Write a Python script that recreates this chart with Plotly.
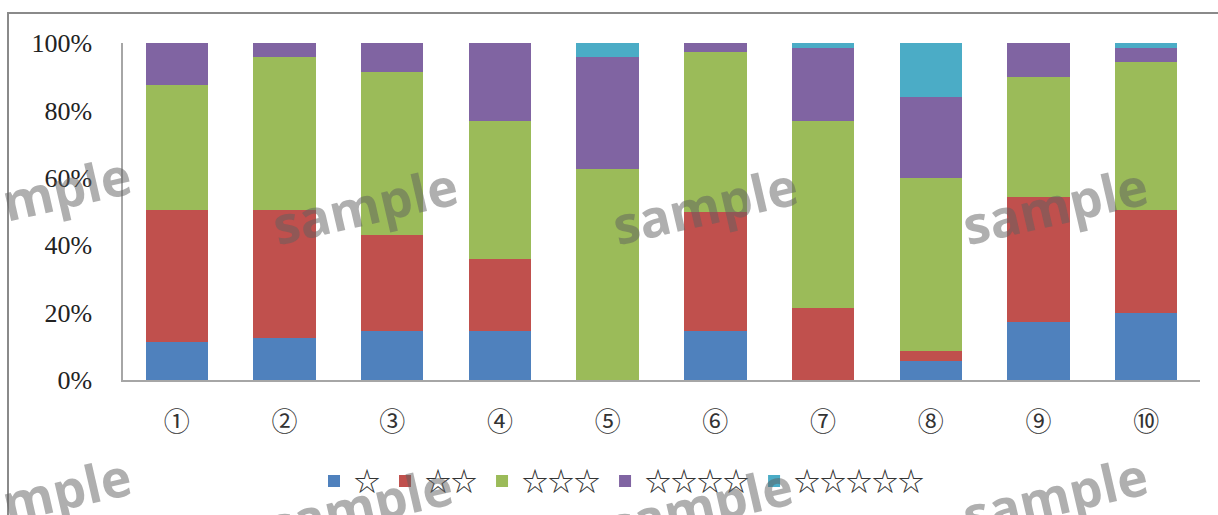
import plotly.graph_objects as go

categories = ["①", "②", "③", "④", "⑤", "⑥", "⑦", "⑧", "⑨", "⑩"]
series_names = ["☆", "☆☆", "☆☆☆", "☆☆☆☆", "☆☆☆☆☆"]
s1 = [11.3, 12.6, 14.6, 14.6, 0.0, 14.6, 0.0, 5.7, 17.2, 19.8]
s2 = [39.0, 37.7, 28.3, 21.2, 0.0, 35.4, 21.5, 3.0, 37.1, 30.5]
s3 = [37.1, 45.5, 48.4, 41.1, 62.7, 47.2, 55.5, 51.3, 35.7, 44.2]
s4 = [12.6, 4.2, 8.7, 23.1, 33.1, 2.8, 21.4, 24.1, 10.0, 3.9]
s5 = [0.0, 0.0, 0.0, 0.0, 4.2, 0.0, 1.6, 15.9, 0.0, 1.6]
y_ticks = [0, 20, 40, 60, 80, 100]
y_tick_labels = ["0%", "20%", "40%", "60%", "80%", "100%"]

colors = ["#4F81BD", "#C0504D", "#9BBB59", "#8064A2", "#4BACC6"]

W, H = 1218, 515
L, R, T, B = 123, 18, 43, 134
pw, ph = W - L - R, H - T - B

def px(x):
    return (x - L) / pw

def py(y):
    return (H - B - y) / ph

fig = go.Figure()
for name, vals, col in zip(series_names, [s1, s2, s3, s4, s5], colors):
    fig.add_trace(go.Bar(x=categories, y=vals, name=name, marker=dict(color=col, line=dict(width=0))))

wm = [("mple", 66, 188), ("sample", 365, 205), ("sample", 705, 205),
      ("sample", 1055, 205), ("mple", 66, 490), ("sample", 360, 506),
      ("sample", 700, 506), ("sample", 1055, 496)]
annotations = [
    dict(text="<b>%s</b>" % t, x=px(x), y=py(y), xref="paper", yref="paper", showarrow=False,
         textangle=-13, font=dict(family="Open Sans", size=52, color="rgba(95,95,95,0.5)"),
         xanchor="center", yanchor="middle")
    for t, x, y in wm
]

fig.update_layout(
    width=W, height=H,
    barmode="stack", bargap=0.42,
    margin=dict(l=L, r=R, t=T, b=B),
    paper_bgcolor="white", plot_bgcolor="white",
    font=dict(family="Liberation Serif", color="#222222"),
    showlegend=True,
    legend=dict(orientation="h", x=px(622), xanchor="center", y=py(481), yanchor="middle",
                font=dict(family="Noto Sans CJK JP", size=26, color="#333333"),
                traceorder="normal", itemwidth=30),
    annotations=annotations,
    shapes=[dict(type="rect", xref="paper", yref="paper", x0=px(8), x1=px(1240), y0=py(13), y1=py(560),
                 line=dict(color="#8A8A8A", width=2), layer="below")],
    xaxis=dict(showline=True, linecolor="#A6A6A6", linewidth=1.5, ticks="", showgrid=False,
               tickfont=dict(family="Noto Sans CJK JP", size=26, color="#333333"), ticklabelstandoff=18),
    yaxis=dict(range=[0, 100], tickvals=y_ticks, ticktext=y_tick_labels, showline=True,
               linecolor="#A6A6A6", linewidth=1.5, ticks="", showgrid=False, zeroline=False,
               tickfont=dict(family="Liberation Serif", size=26, color="#222222"), ticklabelstandoff=24),
)

fig.write_html("out.html")
